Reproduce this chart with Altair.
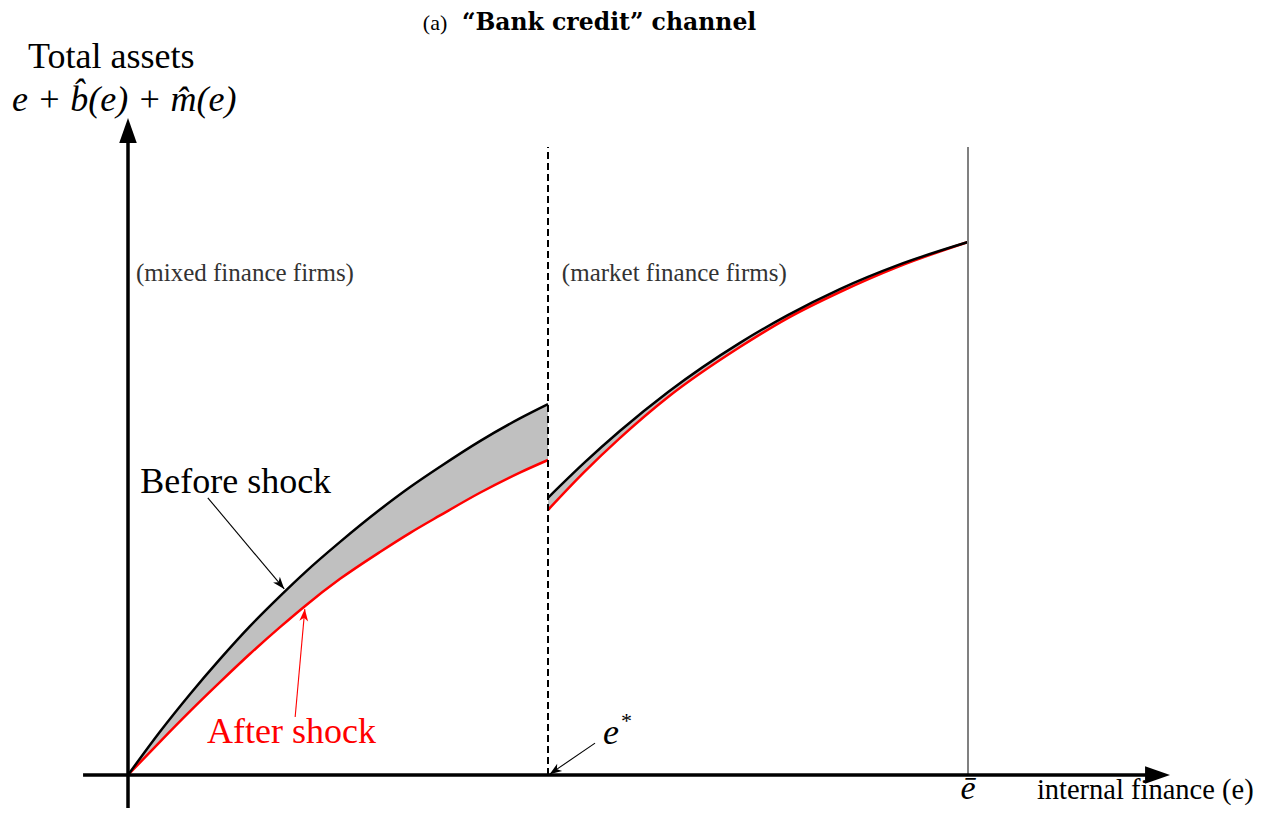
import math
import altair as alt
import pandas as pd

# ---------------- data ----------------
# x: internal finance e (e* = 1, e_bar = 2); y: total assets (same units)
e_left = [0, 0.076, 0.148, 0.219, 0.290, 0.362, 0.421, 0.505, 0.600, 0.671, 0.743, 0.838, 0.933, 1.000]
before_left = [0, 0.103, 0.193, 0.276, 0.354, 0.426, 0.482, 0.555, 0.632, 0.685, 0.734, 0.795, 0.849, 0.883]
after_left = [0, 0.079, 0.152, 0.221, 0.288, 0.352, 0.402, 0.467, 0.531, 0.576, 0.618, 0.672, 0.720, 0.750]

e_right = [1.000, 1.086, 1.171, 1.286, 1.457, 1.571, 1.695, 1.833, 2.000]
before_right = [0.660, 0.743, 0.819, 0.912, 1.029, 1.095, 1.157, 1.214, 1.269]
after_right = [0.631, 0.721, 0.802, 0.900, 1.019, 1.088, 1.150, 1.210, 1.269]

e_star = 1.0
e_bar = 2.0
guide_top = 1.495

# ---------------- layout ----------------
W, H = 1255, 800
PX = 420.0            # pixels per unit (both axes)
OX, OY = 120, 767     # origin inside the chart, in pixels
x_dom = [-OX / PX, (W - OX) / PX]
y_dom = [-(H - OY) / PX, OY / PX]

XS = alt.Scale(domain=x_dom, nice=False, zero=False)
YS = alt.Scale(domain=y_dom, nice=False, zero=False)


def X(f="x"):
    return alt.X(f"{f}:Q", scale=XS, axis=None)


def Y(f="y"):
    return alt.Y(f"{f}:Q", scale=YS, axis=None)


rows = []
for seg, es, bs, as_ in [("mixed", e_left, before_left, after_left),
                         ("market", e_right, before_right, after_right)]:
    for e, b, a in zip(es, bs, as_):
        rows.append(dict(seg=seg, x=e, before=b, after=a))
curves = pd.DataFrame(rows)

area = alt.Chart(curves).mark_area(color="#c0c0c0", opacity=1, interpolate="monotone").encode(
    x=X(), y=Y("before"), y2=alt.Y2("after:Q"), detail="seg:N")
red = alt.Chart(curves).mark_line(color="#ff0000", strokeWidth=2.5, interpolate="monotone").encode(
    x=X(), y=Y("after"), detail="seg:N")
black = alt.Chart(curves).mark_line(color="#000000", strokeWidth=2.5, interpolate="monotone").encode(
    x=X(), y=Y("before"), detail="seg:N")

# guide lines
dash = alt.Chart(pd.DataFrame([dict(x=e_star, y=0, y2=guide_top)])).mark_rule(
    color="black", strokeWidth=2, strokeDash=[7, 4]).encode(x=X(), y=Y(), y2="y2:Q")
ebar_line = alt.Chart(pd.DataFrame([dict(x=e_bar, y=0, y2=guide_top)])).mark_rule(
    color="#808080", strokeWidth=2).encode(x=X(), y=Y(), y2="y2:Q")

# axes
axes_df = pd.DataFrame([
    dict(x=-0.107, y=0.0, x2=2.455, y2=0.0),
    dict(x=0.0, y=y_dom[0], x2=0.0, y2=1.545),
])
axes = alt.Chart(axes_df).mark_rule(color="black", strokeWidth=3.5).encode(
    x=X(), y=Y(), x2="x2:Q", y2="y2:Q")

TRI = "M0,0 L0.65,1.85 L-0.65,1.85 Z"
STEALTH = "M0,0 L0.8,2.2 L0,1.6 L-0.8,2.2 Z"
axis_heads = alt.Chart(pd.DataFrame([
    dict(x=2.481, y=0.0, ang=90),
    dict(x=0.0, y=1.564, ang=0),
])).mark_point(shape=TRI, filled=True, size=729, color="black", opacity=1).encode(
    x=X(), y=Y(), angle=alt.Angle("ang:Q", scale=None))

# annotation arrows (start -> tip)
arrows = [
    dict(x1=0.190, y1=0.660, x2=0.372, y2=0.443, color="black"),   # Before shock
    dict(x1=0.398, y1=0.138, x2=0.421, y2=0.395, color="#ff0000"),  # After shock
    dict(x1=1.112, y1=0.076, x2=1.004, y2=0.002, color="black"),   # e*
]
arrow_layers = []
for a in arrows:
    ang = math.degrees(math.atan2(a["x2"] - a["x1"], a["y2"] - a["y1"])) % 360
    df = pd.DataFrame([dict(x=a["x1"], y=a["y1"], x2=a["x2"], y2=a["y2"], ang=ang)])
    arrow_layers.append(alt.Chart(df).mark_rule(color=a["color"], strokeWidth=1.1).encode(
        x=X(), y=Y(), x2="x2:Q", y2="y2:Q"))
    arrow_layers.append(alt.Chart(df).mark_point(shape=STEALTH, filled=True, size=121,
                                                 color=a["color"], opacity=1).encode(
        x=X("x2"), y=Y("y2"), angle=alt.Angle("ang:Q", scale=None)))

# text labels
SERIF = "Liberation Serif"
texts = [
    dict(t="(a)", x=0.702, y=1.774, size=22, font=SERIF),
    dict(t="\u201cBank credit\u201d channel", x=0.795, y=1.774, size=23.5, font="DejaVu Serif", weight="bold"),
    dict(t="Total assets", x=-0.238, y=1.683, size=36, font=SERIF),
    dict(t="e + b\u0302(e) + m\u0302(e)", x=-0.276, y=1.581, size=36, font=SERIF, style="italic"),
    dict(t="(mixed finance firms)", x=0.019, y=1.176, size=25, font=SERIF, color="#333333"),
    dict(t="(market finance firms)", x=1.033, y=1.176, size=25, font=SERIF, color="#333333"),
    dict(t="Before shock", x=0.029, y=0.671, size=36, font=SERIF),
    dict(t="After shock", x=0.188, y=0.076, size=36, font=SERIF, color="#ff0000"),
    dict(t="e", x=1.131, y=0.074, size=36, font=SERIF, style="italic"),
    dict(t="*", x=1.174, y=0.112, size=22, font=SERIF),
    dict(t="\u0113", x=2.0, y=-0.058, size=34, font=SERIF, style="italic", align="center"),
    dict(t="internal finance (e)", x=2.164, y=-0.058, size=28.5, font=SERIF),
]
text_layers = []
for t in texts:
    kw = dict(font=t["font"], fontSize=t["size"], align=t.get("align", "left"),
              baseline="alphabetic", color=t.get("color", "black"))
    if "weight" in t:
        kw["fontWeight"] = t["weight"]
    if "style" in t:
        kw["fontStyle"] = t["style"]
    df = pd.DataFrame([dict(x=t["x"], y=t["y"], label=t["t"])])
    text_layers.append(alt.Chart(df).mark_text(**kw).encode(x=X(), y=Y(), text="label:N"))

chart = alt.layer(
    area, red, black, dash, ebar_line, axes, axis_heads, *arrow_layers, *text_layers
).properties(
    width=W, height=H, padding=0, autosize=alt.AutoSizeParams(type="none")
).configure_view(stroke=None)

chart.save("out.html", embed_options={"renderer": "svg", "actions": False})
